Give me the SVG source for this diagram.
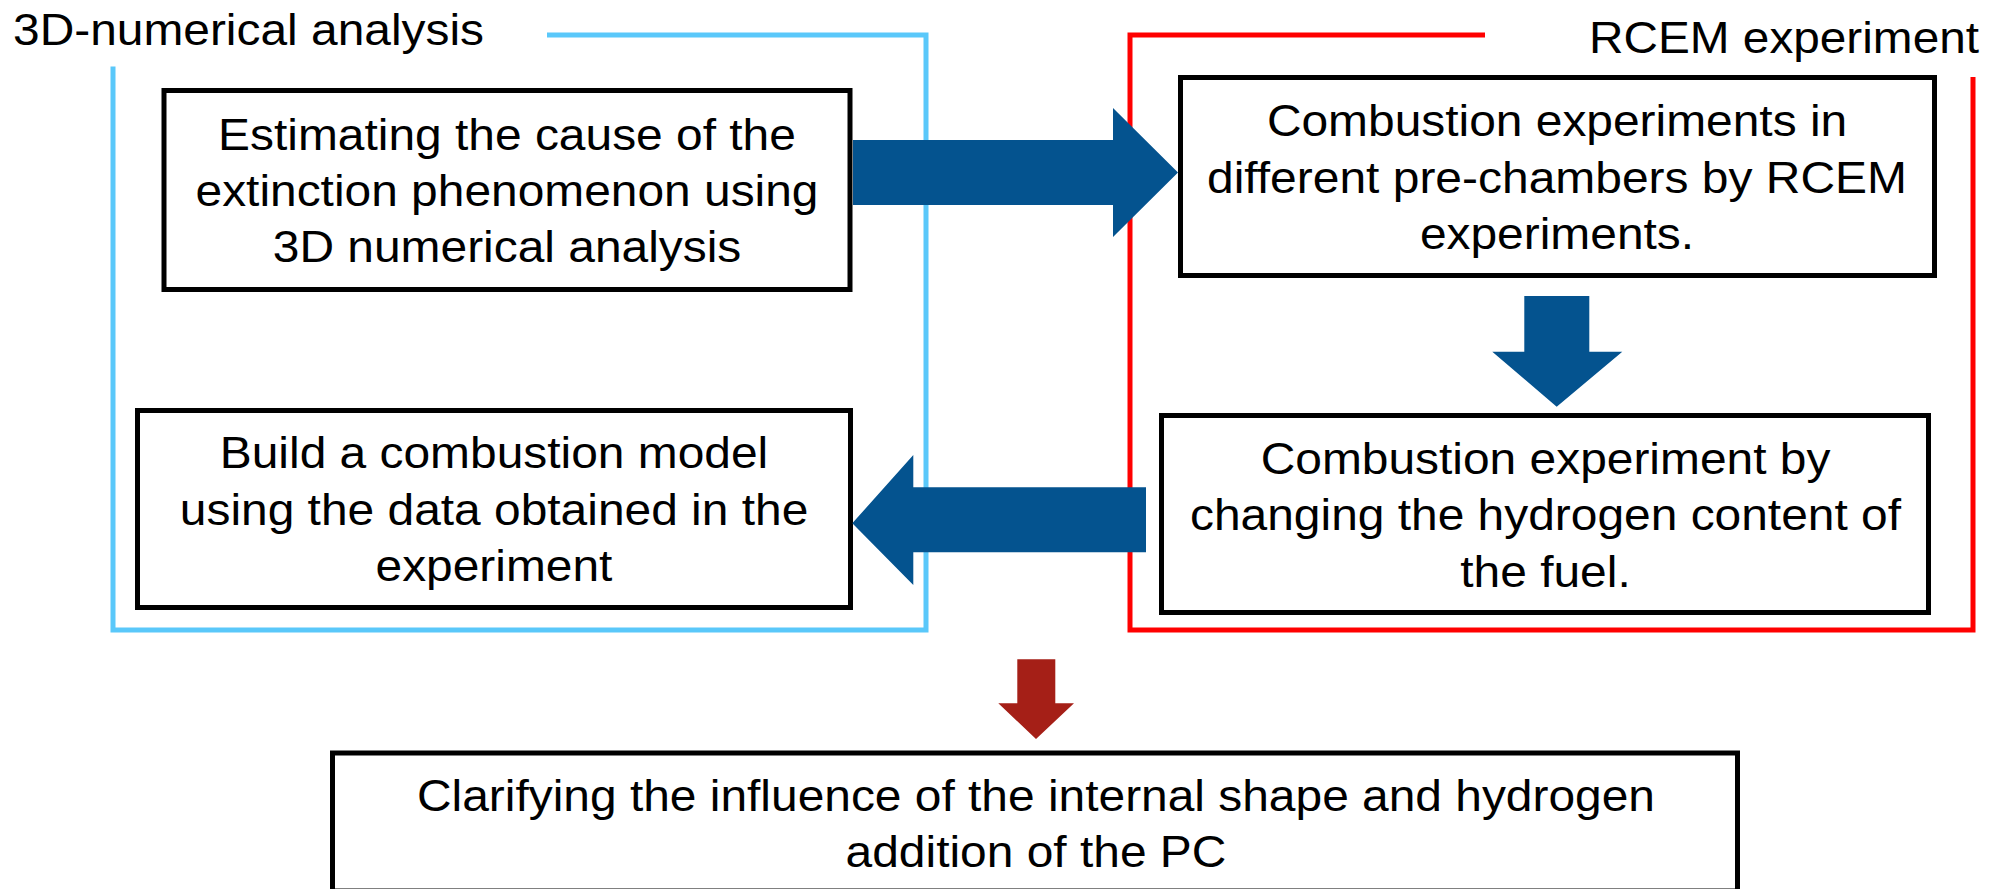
<svg xmlns="http://www.w3.org/2000/svg" width="2005" height="889" viewBox="0 0 2005 889">
<style>
.t{font-family:"Liberation Sans",Arial,sans-serif;font-size:44px;fill:#000}
.box{fill:#fff;stroke:#000;stroke-width:5}
.fb{fill:none;stroke:#5AC8FA;stroke-width:5}
.fr{fill:none;stroke:#FF0000;stroke-width:5}
.ab{fill:#04538F}
.ar{fill:#A51F17}
</style>
<rect width="2005" height="889" fill="#fff"/>
<g id="frames">
<path class="fb" d="M547,35 H926 V630 H113 V66.5"/>
<path class="fr" d="M1485,35 H1130 V630 H1973 V77"/>
<text class="t" x="13" y="44.5" textLength="471" lengthAdjust="spacingAndGlyphs">3D-numerical analysis</text>
<text class="t" x="1589" y="53.3" textLength="390" lengthAdjust="spacingAndGlyphs">RCEM experiment</text>
</g>
<g id="box1">
<rect class="box" x="164" y="90.5" width="686" height="199"/>
<text class="t" x="218.1" y="150" textLength="577.8" lengthAdjust="spacingAndGlyphs">Estimating the cause of the</text>
<text class="t" x="195.5" y="206" textLength="623" lengthAdjust="spacingAndGlyphs">extinction phenomenon using</text>
<text class="t" x="272.8" y="262" textLength="468.5" lengthAdjust="spacingAndGlyphs">3D numerical analysis</text>
</g>
<g id="box2">
<rect class="box" x="1180.5" y="77.5" width="754" height="198"/>
<text class="t" x="1266.9" y="136" textLength="580.3" lengthAdjust="spacingAndGlyphs">Combustion experiments in</text>
<text class="t" x="1207" y="192.5" textLength="700" lengthAdjust="spacingAndGlyphs">different pre-chambers by RCEM</text>
<text class="t" x="1419.9" y="249" textLength="274.2" lengthAdjust="spacingAndGlyphs">experiments.</text>
</g>
<g id="box3">
<rect class="box" x="137.5" y="410.5" width="713" height="197"/>
<text class="t" x="219.8" y="468" textLength="548.4" lengthAdjust="spacingAndGlyphs">Build a combustion model</text>
<text class="t" x="179.8" y="524.5" textLength="628.5" lengthAdjust="spacingAndGlyphs">using the data obtained in the</text>
<text class="t" x="375.5" y="581" textLength="236.9" lengthAdjust="spacingAndGlyphs">experiment</text>
</g>
<g id="box4">
<rect class="box" x="1161.5" y="415.5" width="767" height="197"/>
<text class="t" x="1260.7" y="474" textLength="569.7" lengthAdjust="spacingAndGlyphs">Combustion experiment by</text>
<text class="t" x="1190" y="530" textLength="711" lengthAdjust="spacingAndGlyphs">changing the hydrogen content of</text>
<text class="t" x="1460.3" y="587" textLength="170.4" lengthAdjust="spacingAndGlyphs">the fuel.</text>
</g>
<g id="box5">
<rect class="box" x="332.5" y="753" width="1405" height="138"/>
<text class="t" x="417" y="811" textLength="1238" lengthAdjust="spacingAndGlyphs">Clarifying the influence of the internal shape and hydrogen</text>
<text class="t" x="845.6" y="867" textLength="380.8" lengthAdjust="spacingAndGlyphs">addition of the PC</text>
</g>
<g id="connectors">
<polygon class="ab" points="853,140 1113,140 1113,108 1178,172.5 1113,237 1113,205 853,205"/>
<polygon class="ab" points="1524.3,296 1589.3,296 1589.3,351.7 1622.3,351.7 1556.7,406.7 1492.3,351.7 1524.3,351.7"/>
<polygon class="ab" points="1146,487.3 913.3,487.3 913.3,455 852.3,523.3 913.3,585 913.3,552.3 1146,552.3"/>
<polygon class="ar" points="1017.3,659.3 1055.3,659.3 1055.3,703.3 1074,703.3 1036,739 998.3,703.3 1017.3,703.3"/>
</g>
</svg>
